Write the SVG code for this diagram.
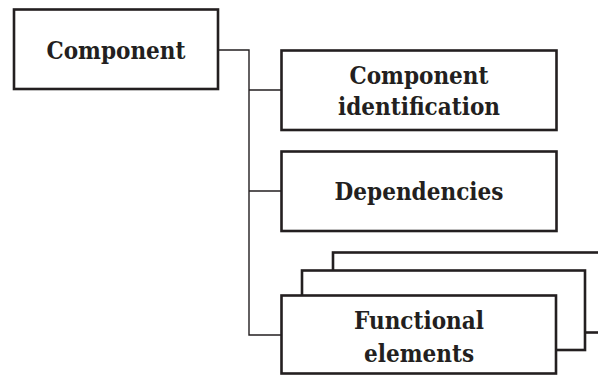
<svg xmlns="http://www.w3.org/2000/svg" width="598" height="376" viewBox="0 0 598 376">
<style>
.box{fill:#fff;stroke:#231f20;stroke-width:2.6}
.conn{fill:none;stroke:#231f20;stroke-width:1.4}
.t{font-family:"DejaVu Serif Condensed","DejaVu Serif","Liberation Serif",serif;font-stretch:condensed;font-weight:bold;font-size:24px;fill:#231f20;text-anchor:middle}
</style>
<rect width="598" height="376" fill="#fff"/>
<g id="connectors">
<path class="conn" d="M218 50 H249 V335 H281 M249 90 H281 M249 191 H281"/>
</g>
<g id="component">
<rect class="box" x="14" y="9.5" width="204" height="79.5"/>
<text class="t" x="116" y="59">Component</text>
</g>
<g id="component-identification">
<rect class="box" x="281.5" y="50.5" width="275" height="79.5"/>
<text class="t" x="419" y="84">Component</text>
<text class="t" x="419" y="115">identification</text>
</g>
<g id="dependencies">
<rect class="box" x="281.5" y="151.5" width="275" height="79.5"/>
<text class="t" x="419" y="200">Dependencies</text>
</g>
<g id="functional-elements">
<rect class="box" x="333" y="252.5" width="280" height="80"/>
<rect class="box" x="302" y="270.5" width="283" height="79.5"/>
<rect class="box" x="281.5" y="295.5" width="274.5" height="78"/>
<text class="t" x="419" y="329">Functional</text>
<text class="t" x="419" y="362">elements</text>
</g>
</svg>
